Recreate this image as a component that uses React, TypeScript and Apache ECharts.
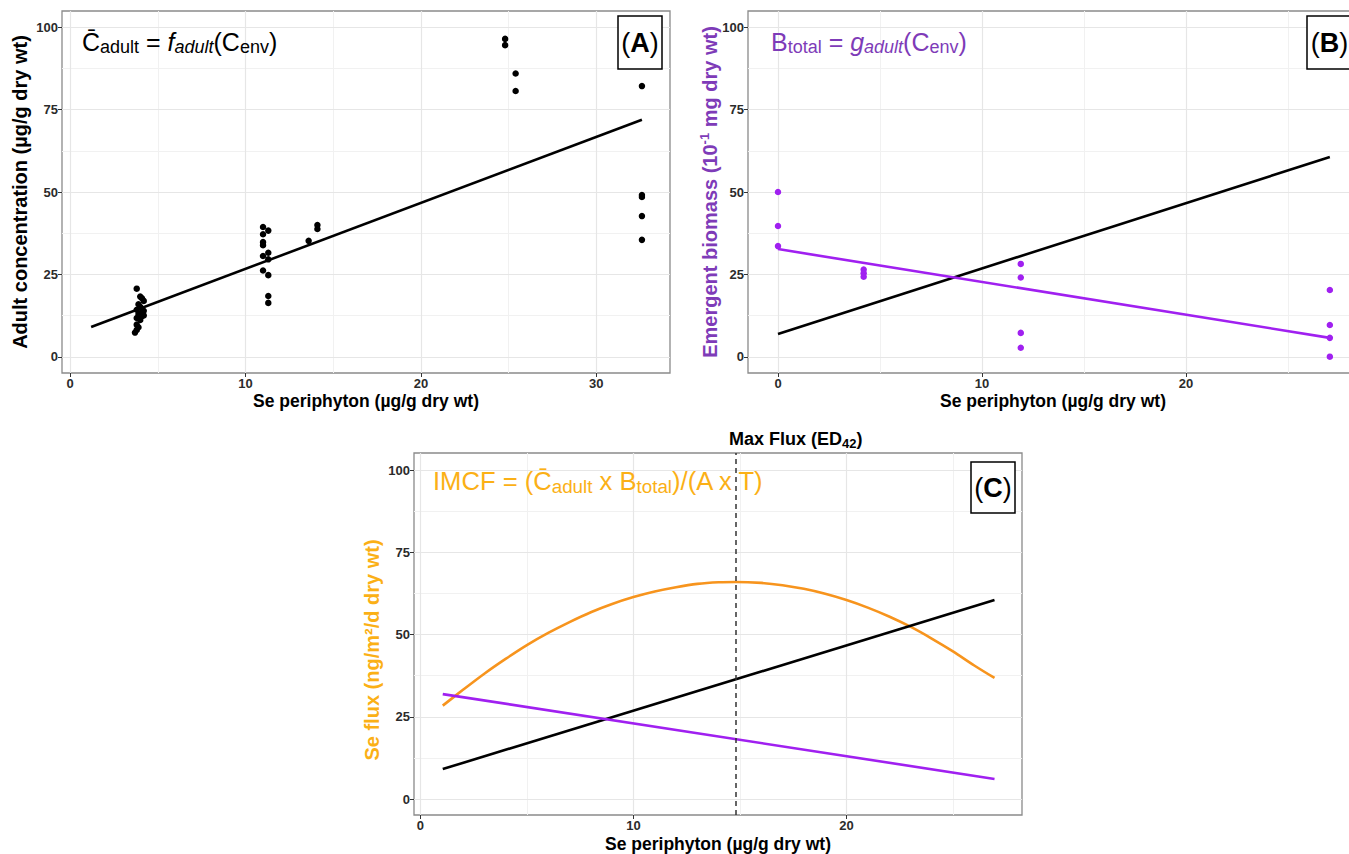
import React, { useEffect, useRef } from "react";
import * as echarts from "echarts";

const FONT = "'Liberation Sans', Arial, Helvetica, sans-serif";

// ---------- shared tick values ----------
const yTicks = [0, 25, 50, 75, 100];
const yMinor = [12.5, 37.5, 62.5, 87.5];
const xTicksA = [0, 10, 20, 30];
const xMinorA = [5, 15, 25];
const xTicksB = [0, 10, 20];
const xMinorB = [5, 15, 25];
const xTicksC = [0, 10, 20];
const xMinorC = [5, 15, 25];

// ---------- Panel A: adult concentration vs Se periphyton ----------
const adultPeriX = [
  3.8, 4.0, 4.1, 3.9, 4.0, 3.8, 4.1, 3.9, 4.1, 3.8, 4.0, 3.8, 3.9, 3.8, 3.7, 4.2, 4.2, 4.2,
  11.0, 11.0, 11.0, 11.0, 11.0, 11.0, 11.3, 11.3, 11.3, 11.3, 11.3, 11.3,
  13.6, 14.1, 14.1,
  24.8, 24.8, 25.4, 25.4,
  32.6, 32.6, 32.6, 32.6, 32.6,
];
const adultConc = [
  20.7, 18.3, 17.8, 16.0, 15.2, 14.3, 13.6, 13.0, 12.4, 11.8, 11.2, 9.8, 9.0, 8.2, 7.4, 12.6, 14.0, 17.0,
  39.4, 37.2, 34.8, 33.9, 30.6, 26.2, 38.3, 31.6, 29.6, 24.8, 18.5, 16.4,
  35.2, 40.0, 38.8,
  96.4, 94.5, 85.9, 80.6,
  82.1, 49.1, 48.5, 42.7, 35.5,
];
const fitAX = [1.2, 32.6];
const fitAY = [9.1, 71.9];

// ---------- Panel B: emergent biomass vs Se periphyton ----------
const biomassX = [0, 0, 0, 4.2, 4.2, 4.2, 11.9, 11.9, 11.9, 11.9, 27.05, 27.05, 27.05, 27.05];
const biomassY = [50.0, 39.7, 33.6, 26.5, 25.4, 24.3, 28.2, 24.1, 7.3, 2.8, 20.3, 9.7, 5.8, 0.1];
const fitBPurpleX = [0, 27.05];
const fitBPurpleY = [32.7, 5.8];
const fitBBlackX = [0, 27.05];
const fitBBlackY = [7.0, 60.6];

// ---------- Panel C: Se flux (curve) ----------
const fluxX = [1.05, 2, 3, 4, 5, 6, 7, 8, 9, 10, 11, 12, 13, 14, 14.8, 16, 17, 18, 19, 20, 21, 22, 23, 24, 25, 26, 26.95];
const fluxY = [
  28.4, 33.2, 38.1, 42.6, 46.8, 50.5, 53.8, 56.8, 59.3, 61.4, 63.1, 64.4, 65.4, 65.9, 66.0,
  65.7, 65.0, 63.9, 62.4, 60.5, 58.2, 55.5, 52.4, 48.8, 44.9, 40.6, 36.8,
];
const fitCBlackX = [1.05, 26.95];
const fitCBlackY = [9.1, 60.5];
const fitCPurpleX = [1.05, 26.95];
const fitCPurpleY = [31.9, 6.1];
const maxFluxX = 14.8;

// ---------- colours ----------
const PURPLE = "#a020f0";
const PURPLE_TEXT = "#7e3bb8";
const ORANGE = "#f7941d";
const ORANGE_TEXT = "#fbb016";

const pairs = (xs: number[], ys: number[]) => xs.map((x, i) => [x, ys[i]]);

function axisOf(gi: number, min: number, max: number, ticks: number[]) {
  return {
    gridIndex: gi,
    type: "value",
    min,
    max,
    axisLine: { show: false, onZero: false },
    splitLine: { show: false },
    axisTick: { show: true, customValues: ticks, length: 4, lineStyle: { color: "#333", width: 1 } },
    axisLabel: {
      customValues: ticks,
      fontFamily: FONT,
      fontWeight: "bold",
      fontSize: 13,
      color: "#2b2b2b",
      margin: 4,
    },
  };
}

function gridLines(gi: number, xs: number[], ys: number[], color: string, width: number) {
  return {
    type: "line",
    xAxisIndex: gi,
    yAxisIndex: gi,
    data: [],
    z: 1,
    silent: true,
    markLine: {
      silent: true,
      z: 1,
      symbol: ["none", "none"],
      label: { show: false },
      emphasis: { disabled: true },
      lineStyle: { color, width, type: "solid" },
      data: [...xs.map((v) => ({ xAxis: v })), ...ys.map((v) => ({ yAxis: v }))],
    },
  };
}

function lineSeries(gi: number, xs: number[], ys: number[], color: string, smooth: boolean | number = false) {
  return {
    type: "line",
    xAxisIndex: gi,
    yAxisIndex: gi,
    data: pairs(xs, ys),
    showSymbol: false,
    smooth,
    z: 4,
    lineStyle: { color, width: 2.6 },
    itemStyle: { color },
  };
}

function scatterSeries(gi: number, xs: number[], ys: number[], color: string) {
  return {
    type: "scatter",
    xAxisIndex: gi,
    yAxisIndex: gi,
    data: pairs(xs, ys),
    symbolSize: 6.5,
    z: 5,
    itemStyle: { color, opacity: 1 },
  };
}

function subRich(color: string, main: number, sub: number, lh: number) {
  return {
    n: { fill: color, fontSize: main, fontFamily: FONT, lineHeight: lh },
    i: { fill: color, fontSize: main, fontFamily: FONT, fontStyle: "italic", lineHeight: lh },
    s: { fill: color, fontSize: sub, fontFamily: FONT, lineHeight: 14, verticalAlign: "bottom" },
    is: { fill: color, fontSize: sub, fontFamily: FONT, fontStyle: "italic", lineHeight: 14, verticalAlign: "bottom" },
  };
}

function labelBox(x: number, y: number, w: number, h: number, letter: string) {
  return {
    type: "group",
    children: [
      {
        type: "rect",
        shape: { x, y, width: w, height: h },
        style: { fill: "#fff", stroke: "#000", lineWidth: 1.5 },
        z: 10,
      },
      {
        type: "text",
        x: x + w / 2,
        y: y + h / 2,
        z: 11,
        style: {
          text: `{p|(}{b|${letter}}{p|)}`,
          align: "center",
          verticalAlign: "middle",
          rich: {
            p: { fill: "#000", fontSize: 27, fontFamily: FONT },
            b: { fill: "#000", fontSize: 27, fontFamily: FONT, fontWeight: "bold" },
          },
        },
      },
    ],
  };
}

function yTitle(x: number, y: number, text: string, color: string, rich?: any) {
  return {
    type: "text",
    x,
    y,
    rotation: Math.PI / 2,
    z: 10,
    style: {
      text,
      fill: color,
      fontSize: 20,
      fontWeight: "bold",
      fontFamily: FONT,
      align: "center",
      verticalAlign: "middle",
      rich,
    },
  };
}

function xTitle(x: number, y: number) {
  return {
    type: "text",
    x,
    y,
    z: 10,
    style: {
      text: "Se periphyton (µg/g dry wt)",
      fill: "#000",
      fontSize: 17.5,
      fontWeight: "bold",
      fontFamily: FONT,
      align: "center",
      verticalAlign: "middle",
    },
  };
}

export default function App() {
  const ref = useRef<HTMLDivElement>(null);

  useEffect(() => {
    if (!ref.current) return;
    const chart = echarts.init(ref.current, undefined, { renderer: "svg" });

    const gridStyle = {
      show: true,
      borderColor: "#8a8a8a",
      borderWidth: 1.3,
      backgroundColor: "#fff",
      containLabel: false,
      outerBoundsMode: "none",
    };

    const option: any = {
      animation: false,
      backgroundColor: "#fff",
      grid: [
        { left: 62, top: 11, width: 608, height: 362, ...gridStyle },
        { left: 748, top: 11, width: 610, height: 362, ...gridStyle },
        { left: 414, top: 453, width: 608, height: 362, ...gridStyle },
      ],
      xAxis: [
        axisOf(0, -0.46, 34.2, xTicksA),
        axisOf(1, -1.47, 28.43, xTicksB),
        axisOf(2, -0.3, 28.24, xTicksC),
      ],
      yAxis: [
        axisOf(0, -4.85, 104.85, yTicks),
        axisOf(1, -4.85, 104.85, yTicks),
        axisOf(2, -4.86, 105.2, yTicks),
      ],
      series: [
        // grid lines
        gridLines(0, xMinorA, yMinor, "#f1f1f1", 1),
        gridLines(0, xTicksA, yTicks, "#e6e6e6", 1.2),
        gridLines(1, xMinorB, yMinor, "#f1f1f1", 1),
        gridLines(1, xTicksB, yTicks, "#e6e6e6", 1.2),
        gridLines(2, xMinorC, yMinor, "#f1f1f1", 1),
        gridLines(2, xTicksC, yTicks, "#e6e6e6", 1.2),
        // Panel A
        scatterSeries(0, adultPeriX, adultConc, "#000"),
        lineSeries(0, fitAX, fitAY, "#000"),
        // Panel B
        scatterSeries(1, biomassX, biomassY, PURPLE),
        lineSeries(1, fitBBlackX, fitBBlackY, "#000"),
        lineSeries(1, fitBPurpleX, fitBPurpleY, PURPLE),
        // Panel C
        lineSeries(2, fluxX, fluxY, ORANGE, 0.3),
        lineSeries(2, fitCBlackX, fitCBlackY, "#000"),
        lineSeries(2, fitCPurpleX, fitCPurpleY, PURPLE),
        {
          type: "line",
          xAxisIndex: 2,
          yAxisIndex: 2,
          data: [],
          z: 6,
          silent: true,
          markLine: {
            silent: true,
            z: 6,
            symbol: ["none", "none"],
            label: { show: false },
            emphasis: { disabled: true },
            lineStyle: { color: "#333", width: 1.5, type: [5, 4] },
            data: [{ xAxis: maxFluxX }],
          },
        },
      ],
      graphic: [
        // annotations
        {
          type: "text",
          x: 82,
          y: 42,
          z: 10,
          style: {
            text: "{n|C\u0304}{s|adult}{n| = }{i|f}{is|adult}{n|(C}{s|env}{n|)}",
            verticalAlign: "middle",
            align: "left",
            rich: subRich("#000", 25, 18, 28),
          },
        },
        {
          type: "text",
          x: 771,
          y: 42,
          z: 10,
          style: {
            text: "{n|B}{s|total}{n| = }{i|g}{is|adult}{n|(C}{s|env}{n|)}",
            verticalAlign: "middle",
            align: "left",
            rich: subRich(PURPLE_TEXT, 25, 18, 28),
          },
        },
        {
          type: "text",
          x: 433,
          y: 481,
          z: 10,
          style: {
            text: "{n|IMCF = (C\u0304}{s|adult}{n| x B}{s|total}{n|)/(A x T)}",
            verticalAlign: "middle",
            align: "left",
            rich: subRich(ORANGE_TEXT, 25.6, 18.8, 30),
          },
        },
        {
          type: "text",
          x: 729,
          y: 439,
          z: 10,
          style: {
            text: "{b|Max Flux (ED}{s|42}{b|)}",
            verticalAlign: "middle",
            align: "left",
            rich: {
              b: { fill: "#000", fontSize: 18, fontWeight: "bold", fontFamily: FONT, lineHeight: 22 },
              s: { fill: "#000", fontSize: 13, fontWeight: "bold", fontFamily: FONT, lineHeight: 12, verticalAlign: "bottom" },
            },
          },
        },
        // label boxes
        labelBox(618, 16, 44, 53, "A"),
        labelBox(1307, 16, 45, 53, "B"),
        labelBox(971, 462, 44, 51, "C"),
        // axis titles
        yTitle(19.5, 192, "Adult concentration (µg/g dry wt)", "#000"),
        yTitle(710, 192, "{n|Emergent biomass (10}{sup|-1}{n| mg dry wt)}", PURPLE_TEXT, {
          n: { fill: PURPLE_TEXT, fontSize: 20, fontWeight: "bold", fontFamily: FONT, lineHeight: 24 },
          sup: { fill: PURPLE_TEXT, fontSize: 13, fontWeight: "bold", fontFamily: FONT, lineHeight: 12, verticalAlign: "top" },
        }),
        yTitle(372, 650, "Se flux (ng/m²/d dry wt)", ORANGE_TEXT),
        xTitle(366, 400.5),
        xTitle(1053, 401),
        xTitle(718, 844),
      ],
    };

    chart.setOption(option);
    return () => chart.dispose();
  }, []);

  return (
    <div
      ref={ref}
      style={{ position: "fixed", left: 0, top: 0, width: 1349, height: 854, background: "#fff" }}
    />
  );
}
